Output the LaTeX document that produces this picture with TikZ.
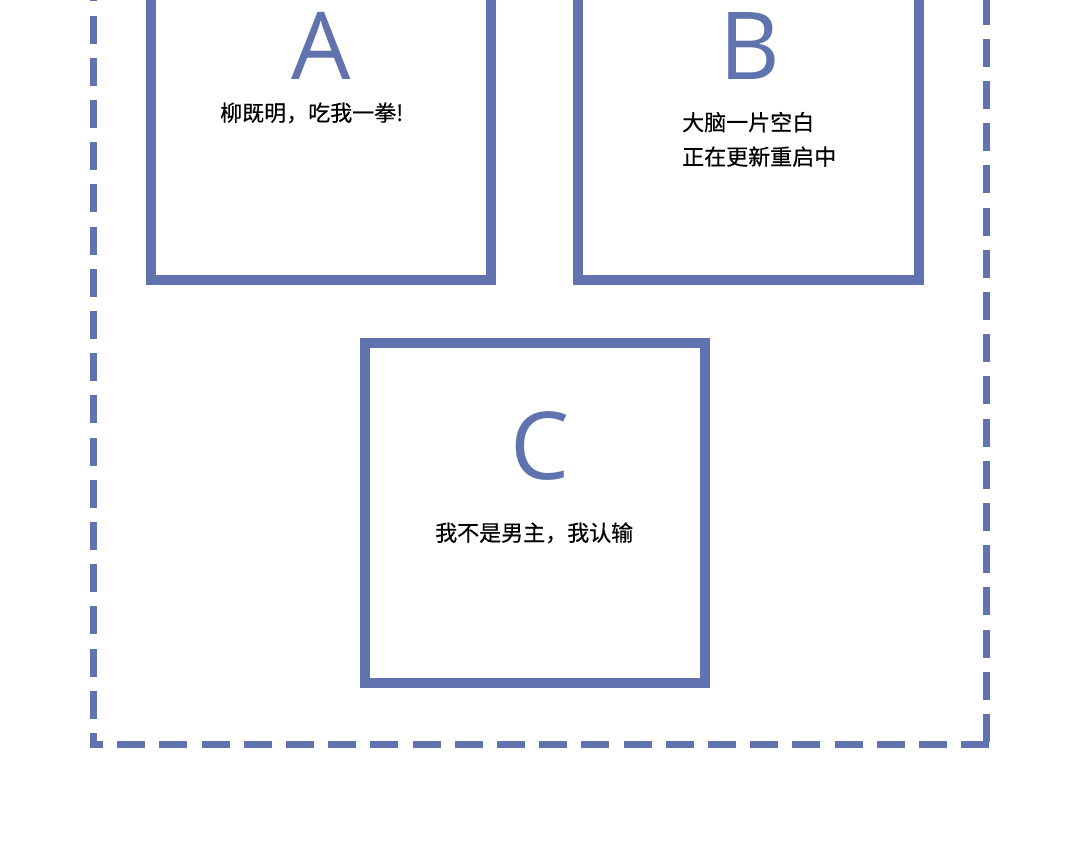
\documentclass[tikz,border=0pt]{standalone}
\usepackage{fontspec}
\setmainfont{Open Sans}
\newfontfamily\cjk[FakeBold=0.4]{Noto Sans CJK SC}
\definecolor{boxblue}{RGB}{96,115,174}
\begin{document}
\begin{tikzpicture}[x=1pt,y=-1pt,
  panel/.style={draw=boxblue, line width=10pt, minimum width=340.5pt, minimum height=340.5pt, inner sep=0pt, outer sep=0pt},
  letter/.style={text=boxblue, font=\fontsize{93.8}{100}\selectfont, inner sep=0pt, anchor=base},
  caption/.style={text=black, font=\cjk\fontsize{22}{26}\selectfont, inner sep=0pt, anchor=base west},
  frame/.style={draw=boxblue, line width=7pt, dash pattern=on 28pt off 14.2pt}
]
\useasboundingbox (0,0) rectangle (1080,844);
\clip (0,0) rectangle (1080,844);
\fill[white] (0,0) rectangle (1080,844);
% dashed outer frame
\coordinate (ltop) at (93.5,-10);
\coordinate (lbot) at (93.5,748);
\coordinate (bl) at (90,744.5);
\coordinate (br) at (990,744.5);
\coordinate (rbot) at (986.5,742);
\coordinate (rtop) at (986.5,-10);
\draw[frame, dash phase=13pt] (lbot) -- (ltop);
\draw[frame, dash phase=15pt] (bl) -- (br);
\draw[frame] (rbot) -- (rtop);
% panels
\node[panel] (A) at (320.75,109.25) {};
\node[panel] (B) at (748.25,109.25) {};
\node[panel] (C) at (534.75,512.75) {};
% letters
\node[letter] (la) at (320.7,79) {A};
\node[letter] (lb) at (750,79) {B};
\node[letter] (lc) at (540.3,479) {C};
% captions
\node[caption] (ta) at (220,121) {柳既明，吃我一拳!};
\node[caption] (tb1) at (682,130.5) {大脑一片空白};
\node[caption] (tb2) at (682,165) {正在更新重启中};
\node[caption] (tc) at (435,541) {我不是男主，我认输};
\end{tikzpicture}
\end{document}
